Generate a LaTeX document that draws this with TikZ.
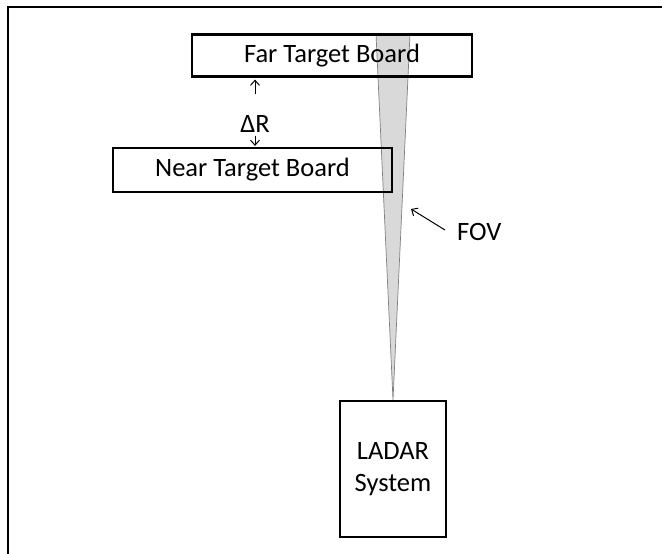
\documentclass[tikz,border=0pt]{standalone}
\usepackage{fontspec}
\setmainfont{Carlito}
\usepackage{tikz}
\usepackage{xcolor}
\usetikzlibrary{positioning,backgrounds,arrows.meta}

\definecolor{beamgray}{HTML}{D9D9D9}

\begin{document}
\begin{tikzpicture}[x=1pt, y=-1pt,
    every node/.style={font=\fontsize{26.5}{32}\selectfont},
    board/.style={draw, line width=2.2pt, inner sep=0pt},
    lbl/.style={inner sep=0pt},
    pointer/.style={-{Straight Barb[length=5pt,width=9pt]}, line width=1pt}]
      %\draw [dotted] (0,0) grid[step=50] (662,554);
      \useasboundingbox (0,0) rectangle (662,554);
      \clip (0,0) rectangle (662,554);
      \draw [line width=2pt] (8,7) rectangle (672,564);
      \node [board, minimum width=280pt, minimum height=42pt]  (far) at (332.0,  55.5) {Far Target Board};
      \node [board, minimum width=279pt, minimum height=44pt] (near) at (252.5, 170.0) {Near Target Board};
      \node [board, minimum width=106pt, minimum height=136pt, align=center, text width=100pt]
                                                              (ladar) at (393.0, 469.0) {LADAR\\System};
      \node [lbl]                                                (dr) at (255.0, 124.0) {ΔR};
      \node [lbl, anchor=west]                                  (fov) at (457.0, 232.0) {FOV};
      \coordinate (fovl) at (376, 34);
      \coordinate (fovr) at (410, 34);
      \coordinate (fovtip) at (411, 209);
      \begin{scope}[on background layer]
      \filldraw [fill=beamgray, draw=gray, line width=0.7pt] (fovl) -- (fovr) -- (ladar.north) -- cycle;
      \end{scope}
      \draw [pointer, shorten >=2pt] ([yshift=21pt]dr.north) -- (dr.north |- far.south);
      \draw [pointer, shorten >=1pt] ([yshift=-3pt]dr.south) -- (dr.south |- near.north);
      \draw [pointer] ([xshift=-12pt, yshift=2pt]fov.west) -- (fovtip);
\end{tikzpicture}
\end{document}
